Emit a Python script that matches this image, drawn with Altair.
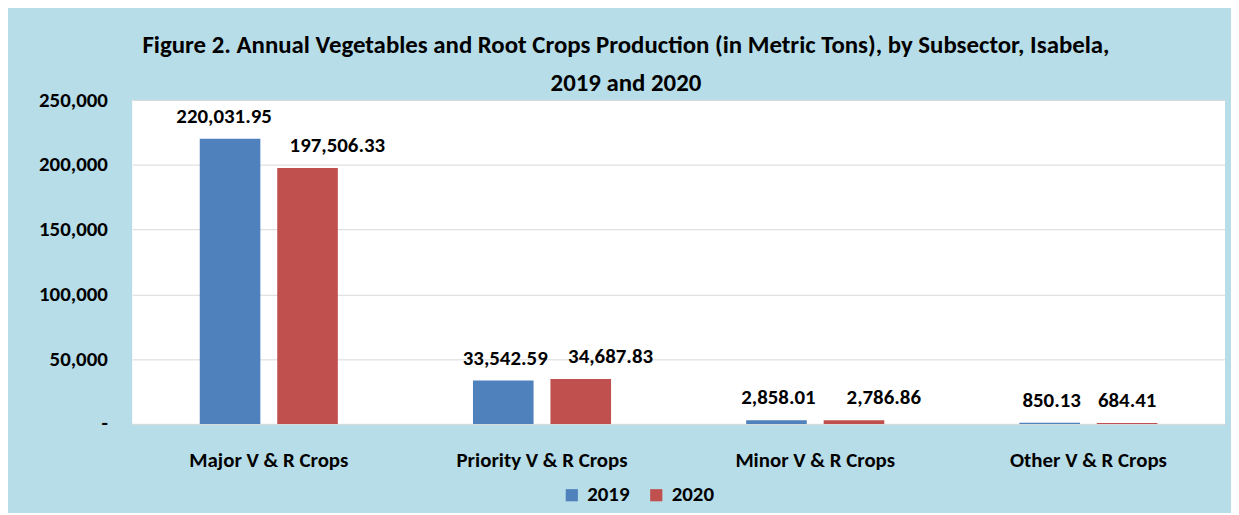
import altair as alt
import pandas as pd

categories = ["Major V & R Crops", "Priority V & R Crops", "Minor V & R Crops", "Other V & R Crops"]
years = ["2019", "2020"]
values_2019 = [220031.95, 33542.59, 2858.01, 850.13]
values_2020 = [197506.33, 34687.83, 2786.86, 684.41]
colors = ["#4f81bd", "#c0504d"]

rows = []
for c, v in zip(categories, values_2019):
    rows.append({"cat": c, "year": "2019", "value": v})
for c, v in zip(categories, values_2020):
    rows.append({"cat": c, "year": "2020", "value": v})
df = pd.DataFrame(rows)

FONT = "Carlito, 'Liberation Sans Narrow', 'DejaVu Sans Condensed', 'Liberation Sans', sans-serif"

x = alt.X("cat:N", sort=categories, title=None,
          scale=alt.Scale(paddingInner=0, paddingOuter=0),
          axis=alt.Axis(labelAngle=0, labelFont=FONT, labelFontSize=21, labelFontWeight="bold",
                        labelColor="black", labelPadding=26, ticks=False, domain=True,
                        domainColor="#d9d9d9"))
xo = alt.XOffset("year:N", sort=years,
                 scale=alt.Scale(paddingInner=0.218, paddingOuter=0.872))
y = alt.Y("value:Q", title=None,
          scale=alt.Scale(domain=[0, 250000], nice=False),
          axis=alt.Axis(values=[0, 50000, 100000, 150000, 200000, 250000],
                        labelExpr="datum.value == 0 ? '-' : format(datum.value, ',')",
                        labelFont=FONT, labelFontSize=21, labelFontWeight="bold",
                        labelColor="black", labelPadding=25, ticks=False, domain=False,
                        grid=True, gridColor="#d9d9d9"))

bars = alt.Chart(df).mark_bar().encode(
    x=x, xOffset=xo, y=y,
    color=alt.Color("year:N", sort=years, title=None,
                    scale=alt.Scale(domain=years, range=colors),
                    legend=alt.Legend(orient="none", legendX=432, legendY=387, direction="horizontal",
                                      symbolType="square", symbolSize=150, symbolStrokeWidth=0,
                                      labelFont=FONT, labelFontSize=21, labelFontWeight="bold",
                                      labelColor="black", columnPadding=16, labelOffset=5)),
)

def label_layer(filter_expr, dx):
    return alt.Chart(df).transform_filter(filter_expr).mark_text(
        font=FONT, fontSize=21, fontWeight="bold", color="black",
        baseline="middle", dy=-22, dx=dx).encode(
        x=x, xOffset=xo, y=y,
        text=alt.Text("value:Q", format=",.2f"),
    )

lab_major19 = label_layer("datum.year == '2019' && datum.cat == 'Major V & R Crops'", -6)
lab_other19 = label_layer("datum.year == '2019' && datum.cat != 'Major V & R Crops'", 2)
lab_20_shift = label_layer("datum.year == '2020' && datum.cat != 'Other V & R Crops'", 30)
lab_20_other = label_layer("datum.year == '2020' && datum.cat == 'Other V & R Crops'", 0)

chart = alt.layer(bars, lab_major19, lab_other19, lab_20_shift, lab_20_other).properties(
    width=1100, height=326,
    title=alt.TitleParams(
        text=["Figure 2. Annual Vegetables and Root Crops Production (in Metric Tons), by Subsector, Isabela,",
              "2019 and 2020"],
        font=FONT, fontSize=25, fontWeight="bold", color="black",
        anchor="middle", dx=-53, dy=13, offset=6, lineHeight=38),
    autosize=alt.AutoSizeParams(type="none"),
    padding={"left": 125, "top": 91, "right": 6, "bottom": 88},
    background="#b7dde8",
).configure_view(fill="white", stroke=None)

chart.save("out.html", embed_options={"renderer": "svg", "actions": False})
